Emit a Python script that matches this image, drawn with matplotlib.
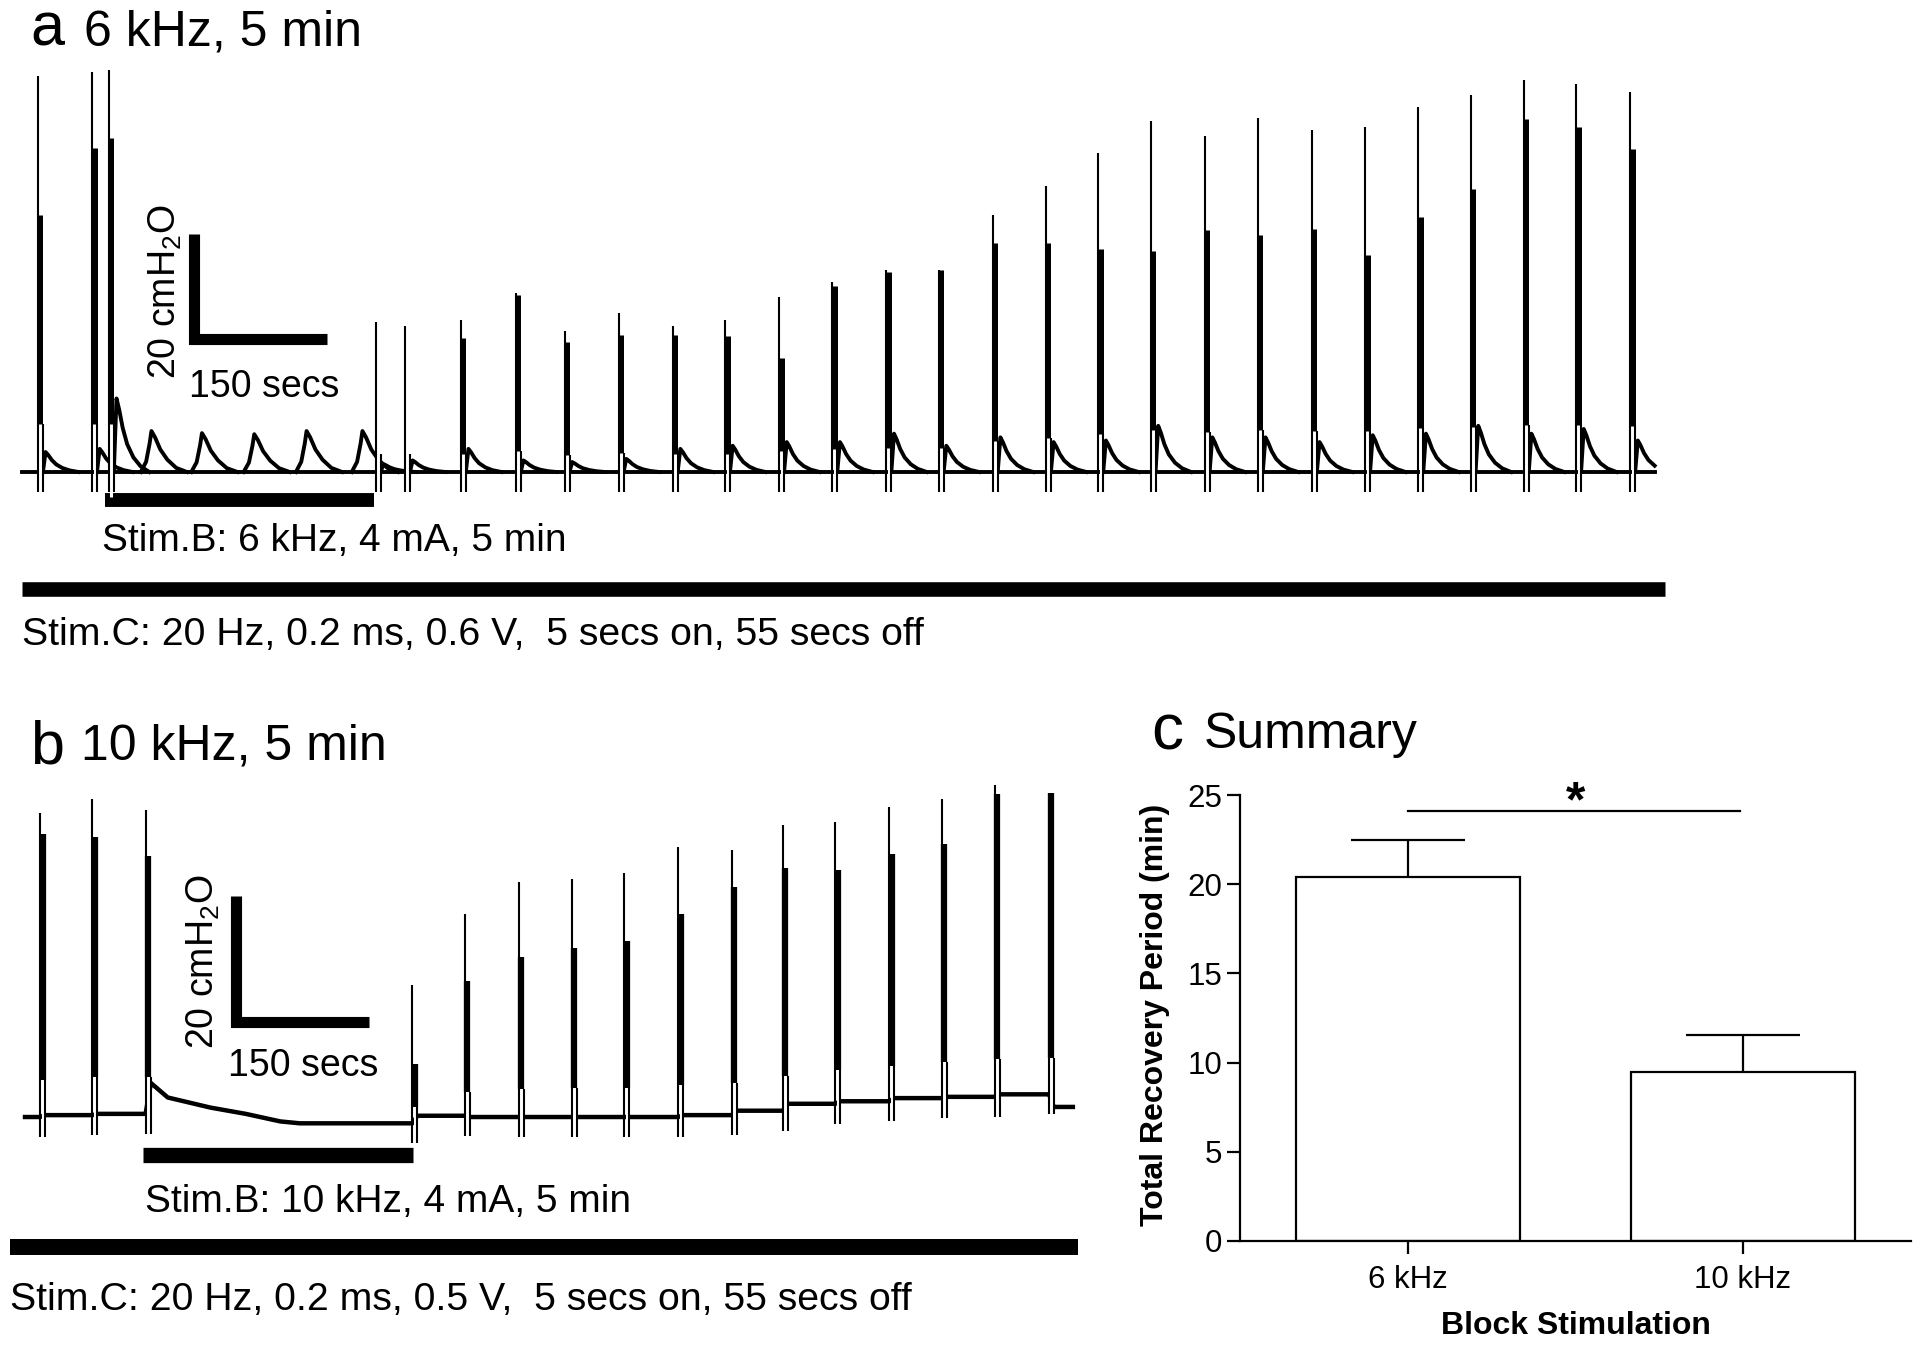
import numpy as np
import matplotlib.pyplot as plt

plt.rcParams['font.family'] = ['Liberation Sans', 'DejaVu Sans']
plt.rcParams['mathtext.fontset'] = 'custom'
plt.rcParams['mathtext.rm'] = 'Liberation Sans'
plt.rcParams['mathtext.it'] = 'Liberation Sans:italic'

W, H = 1920, 1346

# ---- panel a: 6 kHz block. time in s, bladder pressure in cmH2O above baseline
a_spike_t = [18, 79, 98, 399, 432, 495, 557, 612, 673, 734, 793, 854, 914, 975,
             1034, 1095, 1155, 1214, 1273, 1334, 1394, 1455, 1515, 1575, 1634, 1694, 1753, 1814]
a_spike_peak = [75.4, 76.2, 76.6, 28.6, 27.8, 29.0, 34.1, 26.9, 30.3, 27.8, 29.0, 33.3, 36.2, 38.5,
                38.5, 49.0, 54.5, 60.8, 66.9, 64.0, 67.4, 65.1, 65.7, 69.5, 71.8, 74.7, 73.9, 72.4]
# fraction of each spike drawn as the dense (thick) part
a_spike_thick = [0.65, 0.81, 0.83, 0.1, 0.1, 0.88, 0.99, 0.92, 0.86, 0.94, 0.89, 0.65, 0.98, 0.99,
                 1.0, 0.89, 0.80, 0.70, 0.63, 0.72, 0.67, 0.71, 0.63, 0.70, 0.75, 0.90, 0.89, 0.85]
a_after = [3.8, 4.4, 14.0, 1.5, 2.2, 4.4, 2.2, 1.9, 2.5, 4.4, 5.0, 5.7, 5.7, 7.3,
           5.0, 6.6, 5.7, 6.0, 8.8, 6.6, 6.6, 5.7, 7.0, 7.3, 8.8, 7.3, 8.2, 6.0]
a_block_bump_t = [146, 203, 262, 321, 384]
a_block_bump_h = [7.8, 7.4, 7.2, 7.8, 7.8]
a_end = 1842
a_stimB = (94, 397)
a_stimC = (0, 1853)

# ---- panel b: 10 kHz block
b_spike_t = [17, 76, 136, 437, 496, 557, 617, 676, 737, 797, 855, 914, 975, 1034, 1094, 1155]
b_spike_peak = [48.3, 50.5, 48.7, 21.0, 32.2, 37.3, 37.8, 38.7, 42.9, 42.4, 46.3, 46.8, 49.2,
                50.5, 52.7, 51.4]
b_spike_thick = [0.93, 0.88, 0.85, 0.43, 0.67, 0.68, 0.71, 0.72, 0.75, 0.86, 0.85, 0.83, 0.84,
                 0.85, 0.97, 1.0]
# baseline level before the first spike and after each spike
b_level = [0.0, 0.3, 0.5, -1.0, 0.2, 0.0, 0.0, 0.0, 0.0, 0.3, 1.0, 2.1, 2.5, 3.0, 3.2, 3.6, 1.6]
b_decay_t = [142, 161, 209, 249, 288, 310]
b_decay_p = [5.4, 3.1, 1.5, 0.5, -0.7, -1.0]
b_end = 1182
b_stimB = (133, 438)
b_stimC = (-17, 1188)

# ---- panel c: summary
c_groups = ['6 kHz', '10 kHz']
c_mean = [20.4, 9.5]
c_sem = [2.1, 2.05]

# waveform shapes (relative time s, fraction)
tail_dt = [0, 3, 6, 10, 15, 22, 30, 40]
tail_fr = [0, 1.0, 0.85, 0.6, 0.38, 0.2, 0.08, 0]
blk_dt = [-12, -6, -2, 0, 4, 10, 18, 28, 40]
blk_fr = [0, 0.25, 0.7, 1.0, 0.85, 0.55, 0.3, 0.1, 0]

fig = plt.figure(figsize=(W / 100, H / 100), dpi=100)


def px_axes(x0, y0, x1, y1):
    return fig.add_axes([x0 / W, 1 - y1 / H, (x1 - x0) / W, (y1 - y0) / H])


def ftext(x, y, s, **kw):
    fig.text(x / W, 1 - y / H, s, **kw)


def spike(ax, t0, base, peak, thick, dip, lw_thin, lw_thick):
    h = peak - base
    slit = base + 0.12 * h
    ax.plot([t0 + 2.8, t0 + 2.8], [base - dip - 1, slit], color='white', lw=2.2,
            zorder=3, solid_capstyle='butt')
    ax.plot([t0, t0], [base - dip, peak], color='k', lw=lw_thin, zorder=4,
            solid_capstyle='butt')
    ax.plot([t0 + 5.6, t0 + 5.6], [base - dip, slit], color='k', lw=lw_thin, zorder=4,
            solid_capstyle='butt')
    top = base + thick * h
    if top > slit:
        ax.plot([t0 + 2.8, t0 + 2.8], [slit, top], color='k', lw=lw_thick, zorder=4,
                solid_capstyle='butt')


def hbar(ax, span, y, lw):
    ax.plot(span, [y, y], color='k', lw=lw, solid_capstyle='butt')


# ================= panel a =================
ax_a = px_axes(0, 0, 1920, 620)
ax_a.set_xlim(-24.8, 2140.9)
ax_a.set_ylim(-28.19, 89.9)
ax_a.axis('off')

ax_a.plot([0, a_end], [0, 0], color='k', lw=2.8, zorder=2)
for t0, hgt in zip(a_spike_t, a_after):
    tt = [t0 + 5.6 + d for d in tail_dt]
    pp = [hgt * f for f in tail_fr]
    pts = [(u, v) for u, v in zip(tt, pp) if u <= a_end]
    ax_a.plot([u for u, v in pts], [v for u, v in pts], color='k', lw=2.8, zorder=2)
for tb, hb in zip(a_block_bump_t, a_block_bump_h):
    ax_a.plot([tb + d for d in blk_dt], [hb * f for f in blk_fr], color='k', lw=2.8, zorder=2)
for t0, pk, th in zip(a_spike_t, a_spike_peak, a_spike_thick):
    spike(ax_a, t0, 0.0, pk, th, 3.8, 1.5, 3.6)

hbar(ax_a, a_stimB, -5.3, 10)
hbar(ax_a, a_stimC, -22.3, 10.5)

# scale bar: 20 cmH2O / 150 s
ax_a.plot([194, 194, 194 + 150], [25.3 + 20, 25.3, 25.3], color='k', lw=8,
          solid_joinstyle='miter', solid_capstyle='butt')
ftext(165, 292, '20 cmH$_\\mathrm{2}$O', fontsize=27, rotation=90, ha='center', va='center')
ftext(189, 397, '150 secs', fontsize=27, ha='left', va='baseline')

ftext(30, 46, 'a', fontsize=44, ha='left', va='baseline')
ftext(84, 45, '6 kHz, 5 min', fontsize=36, ha='left', va='baseline')
ftext(102, 551, 'Stim.B: 6 kHz, 4 mA, 5 min', fontsize=28, ha='left', va='baseline')
ftext(22, 645, 'Stim.C: 20 Hz, 0.2 ms, 0.6 V,  5 secs on, 55 secs off', fontsize=28.3,
      ha='left', va='baseline')

# ================= panel b =================
ax_b = px_axes(0, 640, 1100, 1330)
ax_b.set_xlim(-28.2, 1212.6)
ax_b.set_ylim(-33.8, 75.7)
ax_b.axis('off')

edges = [0] + b_spike_t + [b_end]
bx, by = [], []
for i, lev in enumerate(b_level):
    start = edges[i] if i == 0 else edges[i] + 5.6
    if i == 3:
        bx += b_decay_t
        by += b_decay_p
    else:
        bx.append(start)
        by.append(lev)
    bx.append(edges[i + 1])
    by.append(lev)
ax_b.plot(bx, by, color='k', lw=3.2, zorder=2)
bases = b_level[:-1]
for t0, pk, th, base in zip(b_spike_t, b_spike_peak, b_spike_thick, bases):
    spike(ax_b, t0, base, pk, th, 3.2, 1.5, 4.5)

hbar(ax_b, b_stimB, -6.0, 11)
hbar(ax_b, b_stimC, -20.6, 11.5)

ax_b.plot([238, 238, 238 + 150], [15.1 + 20, 15.1, 15.1], color='k', lw=8,
          solid_joinstyle='miter', solid_capstyle='butt')
ftext(203, 962, '20 cmH$_\\mathrm{2}$O', fontsize=27, rotation=90, ha='center', va='center')
ftext(228, 1076, '150 secs', fontsize=27, ha='left', va='baseline')

ftext(30, 764, 'b', fontsize=44, ha='left', va='baseline')
ftext(81, 759, '10 kHz, 5 min', fontsize=36, ha='left', va='baseline')
ftext(145, 1212, 'Stim.B: 10 kHz, 4 mA, 5 min', fontsize=28, ha='left', va='baseline')
ftext(10, 1310, 'Stim.C: 20 Hz, 0.2 ms, 0.5 V,  5 secs on, 55 secs off', fontsize=28.3,
      ha='left', va='baseline')

# ================= panel c =================
ax_c = px_axes(1240, 795, 1911, 1241)
xpos = np.arange(len(c_groups))
ax_c.bar(xpos, c_mean, width=0.669, color='white', edgecolor='black', linewidth=1.6, zorder=2)
top = np.array(c_mean) + np.array(c_sem)
ax_c.vlines(xpos, c_mean, top, color='k', lw=1.6, zorder=1)
ax_c.hlines(top, xpos - 0.17, xpos + 0.17, color='k', lw=1.6)
ax_c.plot([0, 0.99], [24.1, 24.1], color='k', lw=1.6, clip_on=False)
ax_c.text(0.5, 23.8, '*', fontsize=36, fontweight='bold', ha='center', va='baseline')

ax_c.set_xlim(-0.5015, 1.5015)
ax_c.set_ylim(0, 25)
ax_c.set_yticks([0, 5, 10, 15, 20, 25])
ax_c.set_xticks(xpos)
ax_c.set_xticklabels(c_groups)
for s in ['top', 'right']:
    ax_c.spines[s].set_visible(False)
for s in ['left', 'bottom']:
    ax_c.spines[s].set_linewidth(1.6)
ax_c.tick_params(axis='both', length=9.5, width=1.6, labelsize=22.5)
ax_c.tick_params(axis='y', pad=3.5)
ax_c.tick_params(axis='x', pad=8)

ftext(1155, 1015, 'Total Recovery Period (min)', fontsize=23, fontweight='bold',
      rotation=90, ha='center', va='center')
ftext(1576, 1334, 'Block Stimulation', fontsize=23, fontweight='bold', ha='center',
      va='baseline')
ftext(1151, 749, 'c', fontsize=46, ha='left', va='baseline')
ftext(1204, 748, 'Summary', fontsize=36, ha='left', va='baseline')

fig.savefig('out.png', dpi=100)
